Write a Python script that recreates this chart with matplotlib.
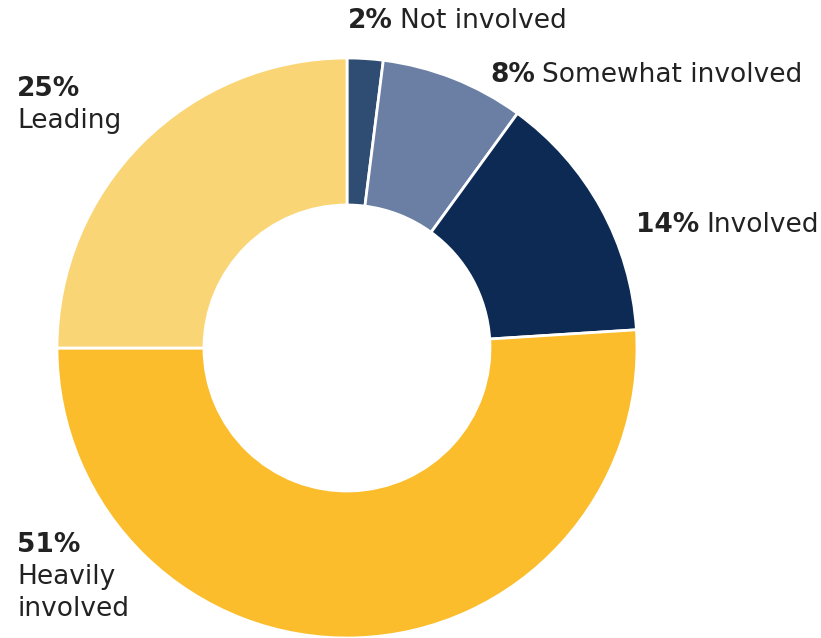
import matplotlib.pyplot as plt

# data
labels = ["Not involved", "Somewhat involved", "Involved", "Heavily\ninvolved", "Leading"]
pcts = [2, 8, 14, 51, 25]
colors = ["#2f4d73", "#6a7fa3", "#0d2a55", "#fbbd2c", "#fad575"]

plt.rcParams['font.family'] = ['DejaVu Sans']

fig = plt.figure(figsize=(8.21, 6.38), dpi=100)
ax = fig.add_axes([0, 0, 1, 1])
ax.axis('off')

ax.pie(pcts, colors=colors, startangle=90, counterclock=False,
       center=(347, 290), radius=290,
       wedgeprops=dict(width=147, edgecolor='white', linewidth=2))
ax.set_xlim(0, 821)
ax.set_ylim(0, 638)
ax.set_aspect('equal')

txt = "#222222"
fs = 19
fig.canvas.draw()
rend = fig.canvas.get_renderer()

def inline(x, y, pct, lab):
    t = ax.text(x, y, f"{pct}%", fontsize=fs, fontweight='bold', color=txt,
                va='baseline', ha='left')
    bb = t.get_window_extent(renderer=rend)
    ax.text(x + bb.width + 7, y, lab, fontsize=fs, color=txt,
            va='baseline', ha='left')

def stacked(x, y, pct, lab):
    ax.text(x, y, f"{pct}%", fontsize=fs, fontweight='bold', color=txt,
            va='baseline', ha='left')
    for i, line in enumerate(lab.split("\n")):
        ax.text(x, y - 32 * (i + 1), line, fontsize=fs, color=txt,
                va='baseline', ha='left')

inline(348, 638 - 28, pcts[0], labels[0])
inline(490, 638 - 82, pcts[1], labels[1])
inline(636, 638 - 232, pcts[2], labels[2])
stacked(17, 638 - 96, pcts[4], labels[4])
stacked(17, 638 - 552, pcts[3], labels[3])

fig.savefig("out.png", dpi=100)
